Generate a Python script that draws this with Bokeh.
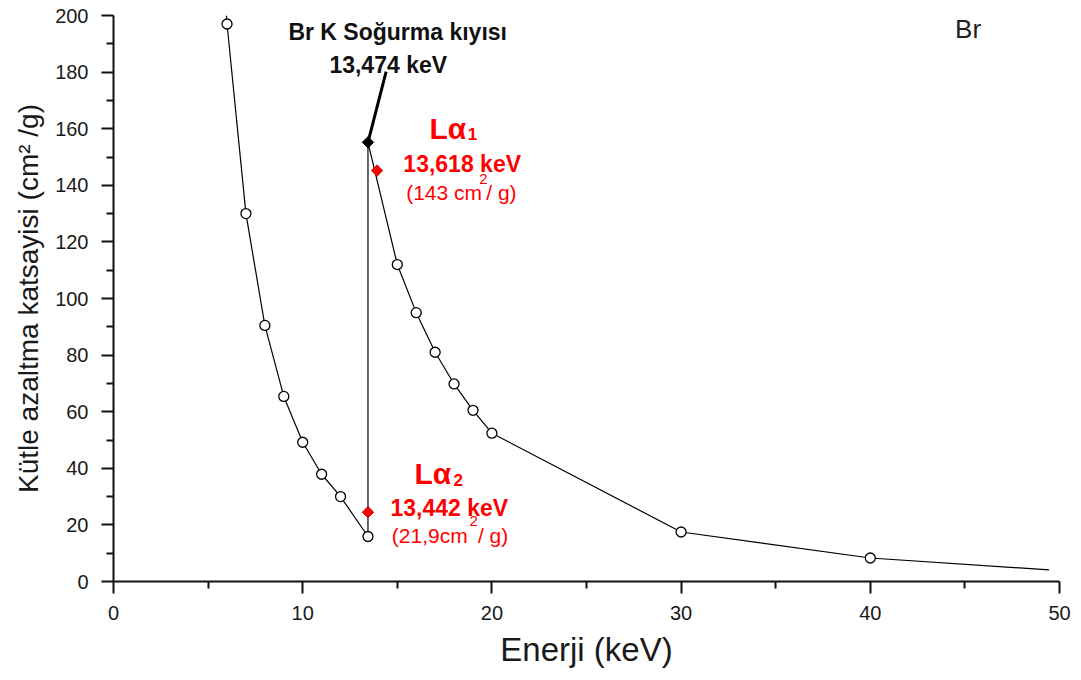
import math
from bokeh.plotting import figure
from bokeh.models import Range1d, FixedTicker
from bokeh.core.properties import value
from bokeh.embed import file_html
from bokeh.resources import INLINE

# ---- data ----
# measured points (open circles)
energy = [6, 7, 8, 9, 10, 11, 12, 13.45, 15, 16, 17, 18, 19, 20, 30, 40]
mu = [197, 130, 90.5, 65.4, 49.2, 37.9, 30, 15.9, 112, 95, 81, 69.8, 60.5, 52.4, 17.5, 8.3]

# attenuation curve as drawn (includes the K edge jump and the clipped ends)
curve_energy = [5.97, 6, 7, 8, 9, 10, 11, 12, 13.45, 13.45, 15, 16, 17, 18, 19, 20, 30, 40, 49.45]
curve_mu = [200, 197, 130, 90.5, 65.4, 49.2, 37.9, 30, 15.9, 155.2, 112, 95, 81, 69.8, 60.5, 52.4, 17.5, 8.3, 4.1]

# K absorption edge marker
edge_energy = [13.45]
edge_mu = [155.2]

# L alpha lines (red)
la_energy = [13.93, 13.45]
la_mu = [145.2, 24.5]

x_ticks = [0, 10, 20, 30, 40, 50]
x_minor = [5, 15, 25, 35, 45]
y_ticks = [0, 20, 40, 60, 80, 100, 120, 140, 160, 180, 200]
y_minor = [10, 30, 50, 70, 90, 110, 130, 150, 170, 190]

FONT = "Liberation Sans"

p = figure(width=1081, height=680, x_range=Range1d(0, 50), y_range=Range1d(0, 200),
           output_backend="svg", toolbar_location=None,
           min_border_left=113, min_border_right=22, min_border_top=15, min_border_bottom=99)
p.outline_line_color = None
p.grid.visible = False
p.background_fill_color = "white"
p.border_fill_color = "white"

for ax in (p.xaxis[0], p.yaxis[0]):
    ax.axis_line_width = 2
    ax.axis_line_color = "#111111"
    ax.major_tick_line_width = 2
    ax.major_tick_line_color = "#111111"
    ax.minor_tick_line_width = 2
    ax.minor_tick_line_color = "#111111"
    ax.major_tick_in = 0
    ax.major_tick_out = 12
    ax.minor_tick_in = 0
    ax.minor_tick_out = 7
    ax.major_label_text_font = FONT
    ax.major_label_text_font_size = "20px"
    ax.major_label_text_color = "#1a1a1a"
    ax.axis_label_text_font = FONT
    ax.axis_label_text_font_style = "normal"
    ax.axis_label_text_color = "#1a1a1a"

p.xaxis.ticker = FixedTicker(ticks=x_ticks, minor_ticks=x_minor)
p.yaxis.ticker = FixedTicker(ticks=y_ticks, minor_ticks=y_minor)
p.xaxis.axis_label = "Enerji (keV)"
p.xaxis.axis_label_text_font_size = "33px"
p.xaxis.major_label_standoff = 12
p.xaxis.axis_label_standoff = 8
p.yaxis.axis_label = "Kütle azaltma katsayisi (cm² /g)"
p.yaxis.axis_label_text_font_size = "28px"
p.yaxis.major_label_standoff = 13
p.yaxis.axis_label_standoff = 8

# curve
p.line(curve_energy, curve_mu, line_color="black", line_width=1.2)
p.scatter(energy, mu, marker="circle", size=10, fill_color="white",
          line_color="black", line_width=1.3)

# pointer to K edge
p.line([13.45, 14.41], [155.2, 180.2], line_color="black", line_width=3)
p.scatter(edge_energy, edge_mu, marker="square", angle=math.pi / 4, size=8,
          fill_color="black", line_color="black")
p.scatter(la_energy, la_mu, marker="square", angle=math.pi / 4, size=8,
          fill_color="#ff0000", line_color="#cc0000")

# annotations
p.text(x=[15.02, 14.52], y=[194.1, 182.4], text=["Br K Soğurma kıyısı", "13,474 keV"],
       text_font=value(FONT), text_font_style="bold", text_font_size="23px",
       text_color="#111111", text_align="center", text_baseline="alphabetic")

p.text(x=[16.7, 15.91], y=[160.0, 38.3], text=["Lα", "Lα"],
       text_font=value(FONT), text_font_style="bold", text_font_size="30px",
       text_color="#ff0000", text_align="left", text_baseline="alphabetic")
p.text(x=[18.72, 17.97], y=[158.3, 35.9], text=["1", "2"],
       text_font=value(FONT), text_font_style="bold", text_font_size="17px",
       text_color="#ff0000", text_align="left", text_baseline="alphabetic")
p.text(x=[15.32, 14.64], y=[147.7, 25.9], text=["13,618 keV", "13,442 keV"],
       text_font=value(FONT), text_font_style="bold", text_font_size="23px",
       text_color="#ff0000", text_align="left", text_baseline="alphabetic")
p.text(x=[15.47, 14.71], y=[137.5, 16.1], text=["(143 cm", "(21,9cm"],
       text_font=value(FONT), text_font_size="21px",
       text_color="#ff0000", text_align="left", text_baseline="alphabetic")
p.text(x=[19.33, 18.82], y=[142.4, 21.5], text=["2", "2"],
       text_font=value(FONT), text_font_size="15px",
       text_color="#ff0000", text_align="left", text_baseline="alphabetic")
p.text(x=[19.70, 19.26], y=[137.5, 16.1], text=["/ g)", "/ g)"],
       text_font=value(FONT), text_font_size="21px",
       text_color="#ff0000", text_align="left", text_baseline="alphabetic")

p.text(x=[44.48], y=[195.4], text=["Br"],
       text_font=value(FONT), text_font_size="26px",
       text_color="#222222", text_align="left", text_baseline="alphabetic")

open("out.html", "w").write(file_html(p, INLINE))
